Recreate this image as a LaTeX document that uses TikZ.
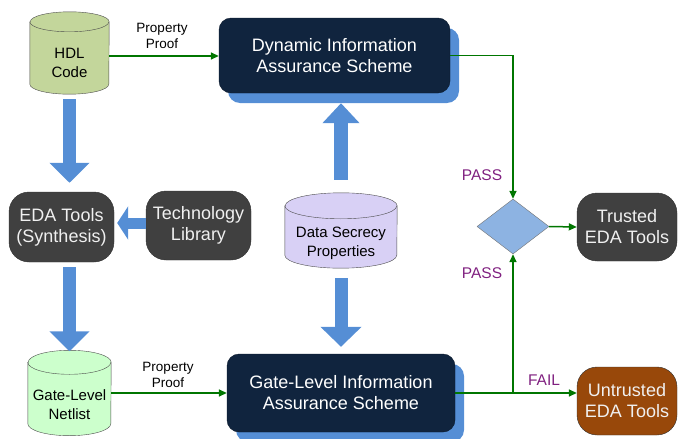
\documentclass[tikz,border=0pt]{standalone}
\usepackage{fontspec}
\setmainfont{Liberation Sans}
\usetikzlibrary{arrows.meta,shapes.geometric,shadows,backgrounds}

\definecolor{navy}{RGB}{16,36,62}
\definecolor{shadowblue}{RGB}{85,142,213}
\definecolor{darkgrey}{RGB}{64,64,64}
\definecolor{passgreen}{RGB}{0,118,0}
\definecolor{tagpurple}{RGB}{128,32,128}
\definecolor{hdlgreen}{RGB}{195,214,155}
\definecolor{netgreen}{RGB}{204,255,204}
\definecolor{lavender}{RGB}{216,208,245}
\definecolor{diamondblue}{RGB}{141,179,226}
\definecolor{rust}{RGB}{152,72,10}

% drum round a store node: #1 node, #2 x radius, #3 y radius, #4 fill
\newcommand{\storedrum}[4]{%
    \filldraw[fill=#4, draw=black!70] ([yshift=#3pt]#1.north west) -- ([yshift=#3pt]#1.south west)
        arc[start angle=180, end angle=0, x radius=#2, y radius=#3]
        -- ([yshift=#3pt]#1.north east)
        arc[start angle=0, end angle=-180, x radius=#2, y radius=#3] -- cycle;
    \draw[draw=black!70] ([yshift=#3pt]#1.north west)
        arc[start angle=180, end angle=0, x radius=#2, y radius=#3];
}

\begin{document}
\begin{tikzpicture}[x=1pt,y=-1pt,
    scheme/.style={draw=navy!70!black, fill=navy, rounded corners=12pt, text=white,
        align=center, inner sep=0pt, font=\fontsize{18}{21}\selectfont,
        drop shadow={shadow xshift=9pt, shadow yshift=-10pt, fill=shadowblue, opacity=1}},
    tool/.style={draw=black!80, fill=darkgrey, rounded corners=20pt, text=white!94!black,
        align=center, inner sep=0pt, font=\fontsize{18}{21}\selectfont},
    store/.style={align=center, inner sep=0pt, font=\fontsize{15}{19}\selectfont},
    fat/.style={draw=shadowblue, line width=13pt, -{Triangle[width=39pt,length=20pt]}},
    flow/.style={draw=passgreen, line width=1.5pt, -{Triangle[width=7pt,length=8pt]}},
    tag/.style={text=tagpurple, font=\fontsize{15.5}{18}\selectfont},
    note/.style={align=center, font=\fontsize{13.5}{16}\selectfont}]
    \useasboundingbox (0,0) rectangle (678,439);

    % Stores (front face of the drum)
    \node[store, minimum width=79pt, minimum height=62pt] (hdl) at (69.5,63) {HDL\\Code};
    \node[store, minimum width=83pt, minimum height=61pt] (net) at (69.5,405) {Gate-Level\\Netlist};
    \node[store, minimum width=112pt, minimum height=49pt] (data) at (341,243.5) {Data Secrecy\\Properties};
    \begin{scope}[on background layer]
        \storedrum{hdl}{39.5}{10}{hdlgreen}
        \storedrum{net}{41.5}{12}{netgreen}
        \storedrum{data}{56}{13}{lavender}
    \end{scope}

    % Schemes
    \node[scheme, minimum width=231pt, minimum height=75pt] (dyn) at (334.5,55.5) {Dynamic Information\\Assurance Scheme};
    \node[scheme, minimum width=228pt, minimum height=78pt] (gate) at (341,393) {Gate-Level Information\\Assurance Scheme};

    % Tools
    \node[tool, minimum width=105pt, minimum height=70pt] (eda) at (61.5,227) {EDA Tools\\(Synthesis)};
    \node[tool, minimum width=105pt, minimum height=69pt] (tech) at (198.5,225.5) {Technology\\Library};
    \node[tool, minimum width=100pt, minimum height=68pt] (trusted) at (627,227) {Trusted\\EDA Tools};
    \node[tool, fill=rust, minimum width=100pt, minimum height=68pt] (untrusted) at (627,401) {Untrusted\\EDA Tools};

    % Decision
    \node[diamond, draw=black!55, fill=diamondblue, minimum width=72pt, minimum height=55pt, aspect=1.3, inner sep=0pt] (dec) at (513,226.5) {};

    % Fat arrows
    \draw[fat, shorten <=5pt, shorten >=9pt] (hdl.south) -- (hdl.south |- eda.north);
    \draw[fat, shorten <=5pt, shorten >=-1pt] (hdl.south |- eda.south) -- ([yshift=24pt]net.north -| hdl.south);
    \draw[fat, line width=11pt, -{Triangle[width=33pt,length=11pt]}, shorten >=3pt] (tech.west |- 0,223) -- (eda.east |- 0,223);
    \draw[fat, line width=14pt, -{Triangle[width=36pt,length=20pt]}, shorten <=13pt, shorten >=10pt] ([yshift=26pt]data.north) -- (data.north |- dyn.south);
    \draw[fat, line width=13pt, -{Triangle[width=40pt,length=20pt]}, shorten <=10pt, shorten >=7pt] (data.south) -- (data.south |- gate.north);

    % Green flow
    \draw[flow] (hdl.east |- 0,56) -- (dyn.west |- 0,56);
    \draw[flow] (net.east |- gate.west) -- (gate.west);
    \draw[flow] (dyn.east) -| (dec.north);
    \draw[flow] (dec.east) -- (trusted.west);
    \draw[flow] (gate.east) -- (gate.east -| untrusted.west);
    \coordinate (j) at (gate.east -| dec.south);
    \draw[flow] (j) -- (dec.south);

    % Labels
    \node[note] (p1) at (162,36) {Property\\Proof};
    \node[note] (p2) at (168,375) {Property\\Proof};
    \node[tag] (pass1) at (482,175) {PASS};
    \node[tag] (pass2) at (482,273) {PASS};
    \node[tag] (fail) at (544,380) {FAIL};
\end{tikzpicture}
\end{document}
